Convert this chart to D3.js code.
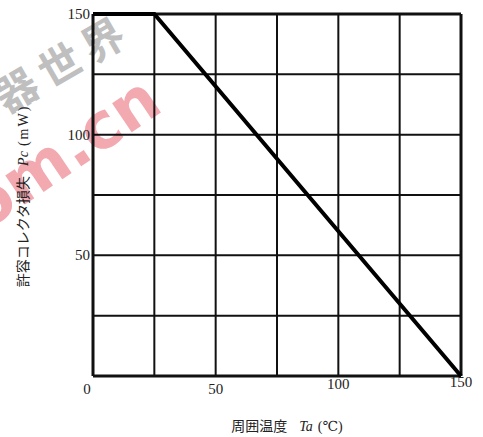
<!DOCTYPE html>
<html>
<head>
<meta charset="utf-8">
<script src="https://cdn.jsdelivr.net/npm/d3@7"></script>
<style>
  body { margin: 0; background: #fff; }
  text { font-family: "Liberation Serif", "DejaVu Serif", serif; }
</style>
</head>
<body>
<div id="chart"></div>
<script>
// derating curve: ambient temperature vs allowable collector loss
const tempC = [0, 25, 150];
const powerMW = [150, 150, 0];
const xTicks = [0, 50, 100, 150];
const yTicks = [50, 100, 150];
const gridSteps = [0, 25, 50, 75, 100, 125, 150];

const W = 483, H = 437;
const margin = {top: 14, right: 22, bottom: 61, left: 93};

const svg = d3.select('#chart')
              .append('svg')
              .attr('width', W)
              .attr('height', H);

const x = d3.scaleLinear()
            .domain([0, 150])
            .range([margin.left, W - margin.right]);

const y = d3.scaleLinear()
            .domain([0, 150])
            .range([H - margin.bottom, margin.top]);

// watermark (faint, behind everything)
svg.append('text')
   .attr('transform', 'translate(-16,232) rotate(-34)')
   .attr('font-size', 64)
   .attr('font-weight', 'bold')
   .attr('fill', '#f0949d')
   .attr('opacity', 0.8)
   .style('font-family', '"DejaVu Sans", sans-serif')
   .text('om.cn');

svg.append('text')
   .attr('transform', 'translate(6,114) rotate(-30)')
   .attr('font-size', 42)
   .attr('fill', '#aaa')
   .attr('opacity', 0.75)
   .attr('letter-spacing', 8)
   .style('font-family', '"Noto Sans CJK SC", sans-serif')
   .style('font-weight', 'bold')
   .text('器世界');

// grid
svg.append('g')
   .selectAll('line')
   .data(gridSteps)
   .enter()
   .append('line')
   .attr('x1', d => x(d))
   .attr('x2', d => x(d))
   .attr('y1', y(0))
   .attr('y2', y(150))
   .attr('stroke', '#111')
   .attr('stroke-width', d => (d === 0 || d === 150) ? 3 : 2);

svg.append('g')
   .selectAll('line')
   .data(gridSteps)
   .enter()
   .append('line')
   .attr('x1', x(0))
   .attr('x2', x(150))
   .attr('y1', d => y(d))
   .attr('y2', d => y(d))
   .attr('stroke', '#111')
   .attr('stroke-width', d => (d === 0 || d === 150) ? 3 : 2);

// tick labels
svg.append('g')
   .selectAll('text')
   .data(xTicks)
   .enter()
   .append('text')
   .attr('x', d => x(d) + (d === 0 ? -6 : 0))
   .attr('y', d => d === 150 ? 387 : (d === 100 ? 389 : 394))
   .attr('text-anchor', 'middle')
   .attr('font-size', 15)
   .attr('fill', '#222')
   .text(d => d);

svg.append('g')
   .selectAll('text')
   .data(yTicks)
   .enter()
   .append('text')
   .attr('x', x(0) - 3)
   .attr('y', d => y(d) + 5)
   .attr('text-anchor', 'end')
   .attr('font-size', 15)
   .attr('fill', '#222')
   .text(d => d);

// curve
const line = d3.line()
               .x((d, i) => x(tempC[i]))
               .y(d => y(d));

svg.append('path')
   .datum(powerMW)
   .attr('d', line)
   .attr('fill', 'none')
   .attr('stroke', '#000')
   .attr('stroke-width', 4);

// axis titles
svg.append('text')
   .attr('x', 287)
   .attr('y', 431)
   .attr('text-anchor', 'middle')
   .attr('font-size', 14)
   .attr('fill', '#222')
   .html('<tspan style="font-family:\'Noto Sans CJK JP\'">周囲温度</tspan><tspan dx="12" font-style="italic">Ta</tspan><tspan dx="5">(℃)</tspan>');

svg.append('text')
   .attr('transform', 'translate(28,196) rotate(-90)')
   .attr('text-anchor', 'middle')
   .attr('font-size', 14)
   .attr('fill', '#222')
   .html('<tspan style="font-family:\'Noto Sans CJK JP\'">許容コレクタ損失</tspan><tspan dx="10" font-style="italic">Pc</tspan><tspan dx="5" letter-spacing="2">(mW)</tspan>');
</script>
</body>
</html>
